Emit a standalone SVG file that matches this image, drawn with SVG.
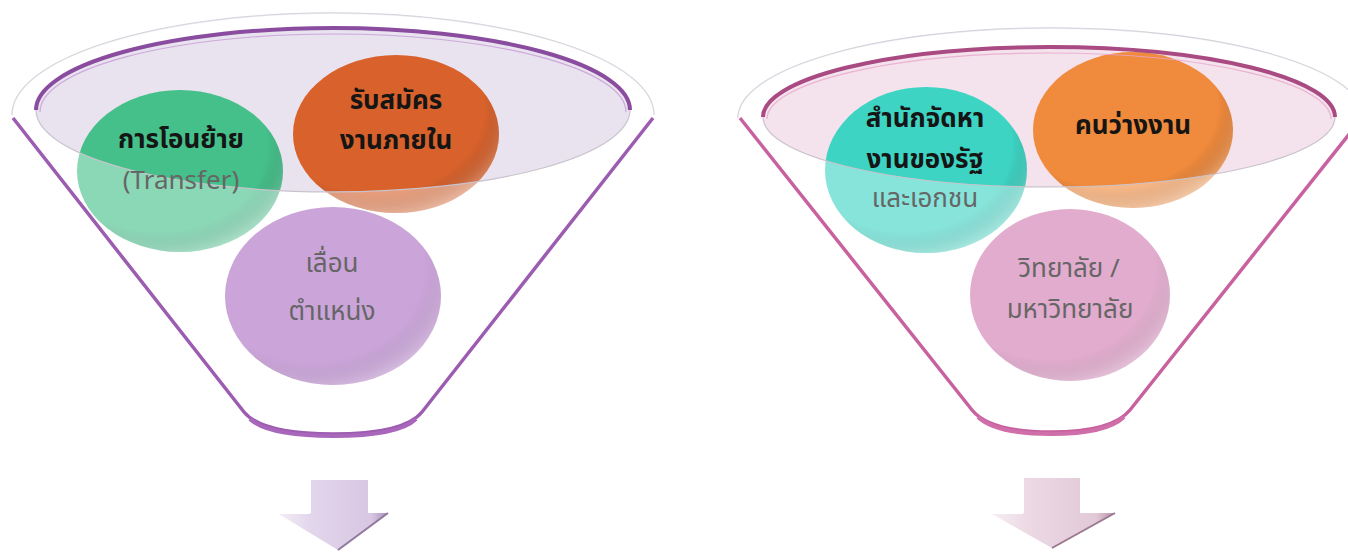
<svg xmlns="http://www.w3.org/2000/svg" width="1348" height="558" viewBox="0 0 1348 558">
<style>
.b{font-family:"Noto Sans Thai","Noto Sans","DejaVu Sans",sans-serif;font-size:26px;font-weight:bold;fill:#151515;text-anchor:middle}
.g{font-family:"Noto Sans Thai","Noto Sans","DejaVu Sans",sans-serif;font-size:26px;fill:#666;text-anchor:middle}
.rim{fill:none;stroke:#d6d0da;stroke-width:1.5}
.glass{fill:#fff;fill-opacity:0.38;fill-rule:evenodd}
.ibot{fill:none;stroke:#c9c4cc;stroke-width:1.2}
</style>
<defs>
<radialGradient id="shade" cx="0.4" cy="0.35" r="0.7">
<stop offset="0.75" stop-color="#000" stop-opacity="0"/>
<stop offset="1" stop-color="#fff" stop-opacity="0.35"/>
</radialGradient>
<linearGradient id="arL" x1="0" y1="0" x2="1" y2="0">
<stop offset="0" stop-color="#f4eff7"/><stop offset="0.3" stop-color="#e3d6ec"/><stop offset="0.85" stop-color="#d8c6e2"/><stop offset="1" stop-color="#a98fb8"/>
</linearGradient>
<linearGradient id="arR" x1="0" y1="0" x2="1" y2="0">
<stop offset="0" stop-color="#f7eff3"/><stop offset="0.3" stop-color="#ecd9e4"/><stop offset="0.85" stop-color="#e2c9d8"/><stop offset="1" stop-color="#b48ea6"/>
</linearGradient>
</defs>

<!-- Left funnel -->
<g id="funnel-left">
<path d="M12,115 A321,102 0 0 1 654,115" class="rim"/>
<ellipse cx="333" cy="110" rx="297" ry="82" fill="#e9e2ef"/>
</g>
<g id="node-transfer">
<ellipse cx="180" cy="171" rx="103" ry="81" fill="#45c08a"/>
<ellipse cx="180" cy="171" rx="103" ry="81" fill="url(#shade)"/>
</g>
<g id="node-internal">
<ellipse cx="396" cy="134" rx="103" ry="79" fill="#d9622c"/>
<ellipse cx="396" cy="134" rx="103" ry="79" fill="url(#shade)"/>
</g>
<g id="node-promote">
<ellipse cx="333" cy="296" rx="108" ry="89" fill="#ab6dc3"/>
<ellipse cx="333" cy="296" rx="108" ry="89" fill="url(#shade)"/>
</g>
<g id="funnel-left-glass">
<path class="glass" d="M12,115 A321,102 0 0 1 654,115 L422,412 Q404,434 333,434 Q262,434 244,412 Z M36,110 A297,82 0 1 0 630,110 A297,82 0 1 0 36,110 Z"/>
<path class="ibot" d="M36,110 A297,82 0 0 0 630,110"/>
<path d="M36,110 A297,82 0 0 1 630,110" fill="none" stroke="#8a4c9e" stroke-width="4"/>
<path d="M40,112 A293,78 0 0 1 626,112" fill="none" stroke="#c69ad4" stroke-width="1.2" opacity="0.8"/>
<path d="M13,118 L244,412 Q262,434 333,434 Q404,434 422,412 L653,118" fill="none" stroke="#9c5cb0" stroke-width="3.5" stroke-linejoin="round"/>
<path d="M250,419 Q268,436 333,436 Q398,436 416,419" fill="none" stroke="#a867bb" stroke-width="4"/>
</g>
<g id="labels-left">
<text class="b" x="181" y="148">การโอนย้าย</text>
<text class="g" x="181" y="189">(Transfer)</text>
<text class="b" x="396" y="109">รับสมัคร</text>
<text class="b" x="396" y="149">งานภายใน</text>
<text class="g" x="332" y="272">เลื่อน</text>
<text class="g" x="332" y="320">ตำแหน่ง</text>
</g>

<!-- Right funnel -->
<g id="funnel-right">
<path d="M738,118 A313,90 0 0 1 1364,118" class="rim"/>
<ellipse cx="1049" cy="117" rx="286" ry="70" fill="#f4e2ec"/>
</g>
<g id="node-agency">
<ellipse cx="926" cy="170" rx="101" ry="83" fill="#3dd4c3"/>
<ellipse cx="926" cy="170" rx="101" ry="83" fill="url(#shade)"/>
</g>
<g id="node-unemployed">
<ellipse cx="1133" cy="130" rx="100" ry="78" fill="#f08a3c"/>
<ellipse cx="1133" cy="130" rx="100" ry="78" fill="url(#shade)"/>
</g>
<g id="node-college">
<ellipse cx="1070" cy="295" rx="100" ry="86" fill="#d07ab1"/>
<ellipse cx="1070" cy="295" rx="100" ry="86" fill="url(#shade)"/>
</g>
<g id="funnel-right-glass">
<path class="glass" d="M738,118 A313,90 0 0 1 1364,118 L1130,410 Q1112,432 1051,432 Q990,432 972,410 Z M763,117 A286,70 0 1 0 1335,117 A286,70 0 1 0 763,117 Z"/>
<path class="ibot" d="M763,117 A286,70 0 0 0 1335,117"/>
<path d="M763,117 A286,70 0 0 1 1335,117" fill="none" stroke="#a94a82" stroke-width="4"/>
<path d="M767,119 A282,66 0 0 1 1331,119" fill="none" stroke="#e7a6cc" stroke-width="1.2" opacity="0.8"/>
<path d="M740,118 L972,410 Q990,432 1051,432 Q1112,432 1130,410 L1362,118" fill="none" stroke="#c8619f" stroke-width="3.5" stroke-linejoin="round"/>
<path d="M978,417 Q996,434 1051,434 Q1106,434 1124,417" fill="none" stroke="#cf6ea8" stroke-width="4"/>
</g>
<g id="labels-right">
<text class="b" x="925" y="127">สำนักจัดหา</text>
<text class="b" x="925" y="168">งานของรัฐ</text>
<text class="g" x="925" y="207">และเอกชน</text>
<text class="b" x="1133" y="134">คนว่างงาน</text>
<text class="g" x="1069" y="277">วิทยาลัย /</text>
<text class="g" x="1070" y="318">มหาวิทยาลัย</text>
</g>

<g id="connectors">
<path d="M310,480 L368,480 L368,513 L388,513 L338,550 L277,513 L310,513 Z" fill="url(#arL)"/>
<path d="M277,513 L310,513 M310,513 L310,480" fill="none" stroke="#fff" stroke-width="2"/>
<path d="M388,513 L338,550" fill="none" stroke="#8f7a9e" stroke-width="2"/>
<path d="M1023,478 L1080,478 L1080,513 L1115,513 L1052,548 L990,513 L1023,513 Z" fill="url(#arR)"/>
<path d="M990,513 L1023,513 M1023,513 L1023,478" fill="none" stroke="#fff" stroke-width="2"/>
<path d="M1115,513 L1052,548" fill="none" stroke="#9c7890" stroke-width="2"/>
</g>
</svg>
